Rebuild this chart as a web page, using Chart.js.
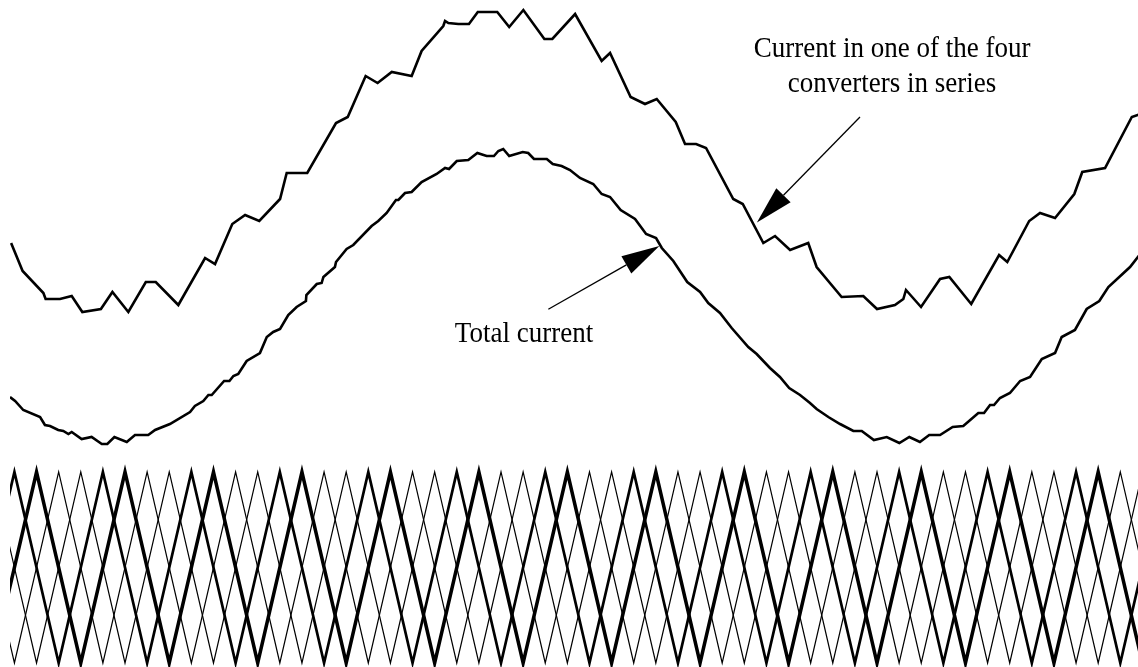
<!DOCTYPE html>
<html>
<head>
<meta charset="utf-8">
<script src="https://cdn.jsdelivr.net/npm/chart.js@4.4.1/dist/chart.umd.min.js"></script>
<style>
  html, body { margin: 0; padding: 0; background: #ffffff; }
  #wrap { width: 1138px; height: 667px; }
</style>
</head>
<body>
<div id="wrap"><canvas id="chart" width="1138" height="667"></canvas></div>
<script>
// ---------------------------------------------------------------------------
// Data (x = angle of the fundamental in degrees, currents in arbitrary units)
// ---------------------------------------------------------------------------

// Current in one of the four converters (upper trace)
const converterAngle = [0.5, 5.7, 15.1, 16.1, 22.6, 27.9, 32.7, 41.1, 46.3, 53.5,
    61.4, 65.9, 76.1, 88.2, 92.7, 100.5, 106.3, 112.7, 122.1, 125.1,
    134.4, 147.4, 152.7, 160.8, 166.2, 172.6, 181.6, 186.1, 195.9, 196.7,
    198.2, 202.7, 207.5, 211.5, 220.3, 225.7, 232.1, 241.6, 245.2, 255.5,
    267.5, 271.3, 280.6, 287.1, 292.4, 301.0, 305.2, 310.2, 314.7, 327.0,
    331.3, 340.6, 345.9, 352.7, 360.9, 364.7, 376.0, 385.8, 392.0, 400.1,
    403.9, 405.1, 411.9, 420.5, 424.7, 434.6, 447.2, 450.9, 460.8, 465.7,
    472.5, 481.2, 484.8, 495.1, 507.2, 511];
const converterCurrent = [4.24, 3.96, 3.74, 3.68, 3.68, 3.71, 3.55, 3.58, 3.75, 3.55,
    3.85, 3.85, 3.62, 4.09, 4.03, 4.43, 4.52, 4.46, 4.68, 4.94,
    4.94, 5.44, 5.50, 5.91, 5.84, 5.95, 5.91, 6.16, 6.41, 6.46,
    6.44, 6.43, 6.43, 6.55, 6.55, 6.40, 6.57, 6.28, 6.28, 6.53,
    6.06, 6.14, 5.70, 5.63, 5.68, 5.45, 5.23, 5.23, 5.19, 4.68,
    4.63, 4.24, 4.31, 4.17, 4.24, 4.00, 3.70, 3.71, 3.58, 3.62,
    3.68, 3.77, 3.60, 3.88, 3.90, 3.63, 4.12, 4.05, 4.46, 4.54,
    4.49, 4.73, 4.95, 4.99, 5.50, 5.53];

// Total current (lower trace)
const totalAngle = [0, 2.3, 6.0, 13.6, 15.8, 18.1, 21.8, 24.1, 26.4, 27.9,
    32.4, 36.9, 41.5, 44.0, 47.2, 52.8, 56.5, 62.5, 65.6, 72.3,
    81.4, 83.6, 87.4, 89.7, 91.2, 96.8, 99.2, 101.0, 103.2, 107.0,
    113.0, 116.1, 119.0, 122.1, 125.8, 129.6, 133.8, 134.0, 138.7, 140.9,
    141.7, 146.9, 147.4, 152.2, 155.2, 163.5, 166.5, 170.3, 174.5, 175.6,
    178.6, 181.6, 186.1, 192.9, 196.7, 198.5, 202.0, 207.2, 211.3, 215.5,
    218.8, 220.8, 223.0, 225.7, 231.8, 234.3, 236.9, 242.7, 245.4, 249.4,
    253.2, 257.7, 263.7, 267.5, 271.3, 276.1, 282.6, 287.6, 292.1, 294.7,
    299.9, 306.2, 312.0, 315.7, 321.0, 326.3, 333.8, 337.6, 343.6, 348.1,
    352.3, 357.2, 361.7, 364.7, 370.0, 375.3, 381.3, 385.1, 390.6, 396.4,
    402.1, 406.6, 411.4, 415.6, 420.5, 426.2, 431.0, 437.8, 440.4, 443.1,
    444.9, 447.6, 452.1, 456.7, 461.2, 466.5, 472.5, 475.5, 481.5, 486.8,
    492.5, 496.6, 506.4, 511];
const totalCurrent = [2.70, 2.66, 2.57, 2.50, 2.42, 2.41, 2.37, 2.36, 2.33, 2.35,
    2.28, 2.30, 2.23, 2.23, 2.30, 2.25, 2.32, 2.32, 2.37, 2.43,
    2.55, 2.61, 2.66, 2.72, 2.72, 2.86, 2.86, 2.91, 2.93, 3.06,
    3.14, 3.30, 3.35, 3.38, 3.52, 3.60, 3.66, 3.72, 3.83, 3.84,
    3.90, 4.00, 4.05, 4.18, 4.22, 4.41, 4.46, 4.54, 4.67, 4.67,
    4.74, 4.75, 4.85, 4.93, 4.99, 4.98, 5.06, 5.07, 5.14, 5.11,
    5.11, 5.16, 5.18, 5.11, 5.15, 5.14, 5.08, 5.08, 5.03, 5.01,
    4.97, 4.89, 4.83, 4.73, 4.70, 4.57, 4.48, 4.33, 4.29, 4.19,
    4.06, 3.85, 3.75, 3.64, 3.54, 3.39, 3.20, 3.13, 2.99, 2.90,
    2.79, 2.72, 2.64, 2.58, 2.50, 2.43, 2.36, 2.36, 2.27, 2.30,
    2.24, 2.30, 2.25, 2.32, 2.32, 2.40, 2.41, 2.54, 2.54, 2.62,
    2.62, 2.69, 2.74, 2.86, 2.90, 3.08, 3.14, 3.30, 3.37, 3.58,
    3.66, 3.80, 4.00, 4.13];

// Phase-shifted triangular carriers: angles of their peaks (+1) and valleys (-1)
const carrierAPeaks   = [12, 52, 92, 132, 172, 212, 252, 292, 332, 372, 412, 452, 492];
const carrierAValleys = [-8, 32, 72, 112, 152, 192, 232, 272, 312, 352, 392, 432, 472, 512];
const carrierBPeaks   = [2, 42, 82, 122, 162, 202, 242, 282, 322, 362, 402, 442, 482, 522];
const carrierBValleys = [-18, 22, 62, 102, 142, 182, 222, 262, 302, 342, 382, 422, 462, 502];
const carrierCPeaks   = [-18, 22, 62, 102, 142, 182, 222, 262, 302, 342, 382, 422, 462, 502];
const carrierCValleys = [2, 42, 82, 122, 162, 202, 242, 282, 322, 362, 402, 442, 482, 522];
const carrierDPeaks   = [-8, 32, 72, 112, 152, 192, 232, 272, 312, 352, 392, 432, 472, 512];
const carrierDValleys = [12, 52, 92, 132, 172, 212, 252, 292, 332, 372, 412, 452, 492];

// Annotations (angle, current)
const labelLines = [
    { text: 'Current in one of the four', x: 398.8, y: 6.10 },
    { text: 'converters in series',       x: 398.8, y: 5.75 },
    { text: 'Total current',              x: 232.4, y: 3.25 }
];
const arrows = [
    { from: [384.3, 5.50], to: [337.7, 4.445] },
    { from: [243.4, 3.577], to: [293.6, 4.21] }
];

// ---------------------------------------------------------------------------

function toPoints(xs, ys) {
    return xs.map((x, i) => ({ x: x, y: ys[i] }));
}

function carrierPoints(peaks, valleys) {
    const pts = peaks.map(x => ({ x: x, y: 1 }))
        .concat(valleys.map(x => ({ x: x, y: -1 })));
    return pts.sort((a, b) => a.x - b.x);
}

function lineSet(data, width, axis) {
    return {
        data: data,
        yAxisID: axis,
        borderColor: '#000000',
        borderWidth: width,
        pointRadius: 0,
        tension: 0,
        fill: false,
        borderJoinStyle: 'miter'
    };
}

const annotationPlugin = {
    id: 'annotations',
    afterDatasetsDraw(chart) {
        const ctx = chart.ctx;
        const xs = chart.scales.x;
        const ys = chart.scales.y;
        ctx.save();
        ctx.fillStyle = '#000000';
        ctx.strokeStyle = '#000000';
        ctx.font = '30px "Liberation Serif", "Times New Roman", serif';
        ctx.textAlign = 'center';
        ctx.textBaseline = 'alphabetic';
        // the original lettering is a condensed serif
        labelLines.forEach(l => {
            const px = xs.getPixelForValue(l.x);
            const py = ys.getPixelForValue(l.y);
            ctx.save();
            ctx.translate(px, py);
            ctx.scale(0.9, 1);
            ctx.fillText(l.text, 0, 0);
            ctx.restore();
        });

        arrows.forEach(a => {
            const x0 = xs.getPixelForValue(a.from[0]);
            const y0 = ys.getPixelForValue(a.from[1]);
            const x1 = xs.getPixelForValue(a.to[0]);
            const y1 = ys.getPixelForValue(a.to[1]);
            const ang = Math.atan2(y1 - y0, x1 - x0);
            const headLen = 38;
            const headHalf = 10;
            const bx = x1 - headLen * Math.cos(ang);
            const by = y1 - headLen * Math.sin(ang);
            ctx.lineWidth = 1.3;
            ctx.beginPath();
            ctx.moveTo(x0, y0);
            ctx.lineTo(bx, by);
            ctx.stroke();
            ctx.beginPath();
            ctx.moveTo(x1, y1);
            ctx.lineTo(bx + headHalf * Math.sin(ang), by - headHalf * Math.cos(ang));
            ctx.lineTo(bx - headHalf * Math.sin(ang), by + headHalf * Math.cos(ang));
            ctx.closePath();
            ctx.fill();
        });
        ctx.restore();
    }
};

new Chart(document.getElementById('chart'), {
    type: 'line',
    data: {
        datasets: [
            lineSet(carrierPoints(carrierCPeaks, carrierCValleys), 1.2, 'yc'),
            lineSet(carrierPoints(carrierDPeaks, carrierDValleys), 1.2, 'yc'),
            lineSet(carrierPoints(carrierBPeaks, carrierBValleys), 2.7, 'yc'),
            lineSet(carrierPoints(carrierAPeaks, carrierAValleys), 3.5, 'yc'),
            lineSet(toPoints(converterAngle, converterCurrent), 2.6, 'y'),
            lineSet(toPoints(totalAngle, totalCurrent), 2.6, 'y')
        ]
    },
    options: {
        responsive: false,
        animation: false,
        layout: { padding: { left: 10, right: 0, top: 0, bottom: 0 } },
        plugins: {
            legend: { display: false },
            tooltip: { enabled: false }
        },
        scales: {
            x: { type: 'linear', min: 0, max: 510, display: false },
            y: { type: 'linear', min: 0, max: 6.67, display: false },
            yc: { type: 'linear', min: -1.042, max: 5.942, display: false }
        }
    },
    plugins: [annotationPlugin]
});
</script>
</body>
</html>
